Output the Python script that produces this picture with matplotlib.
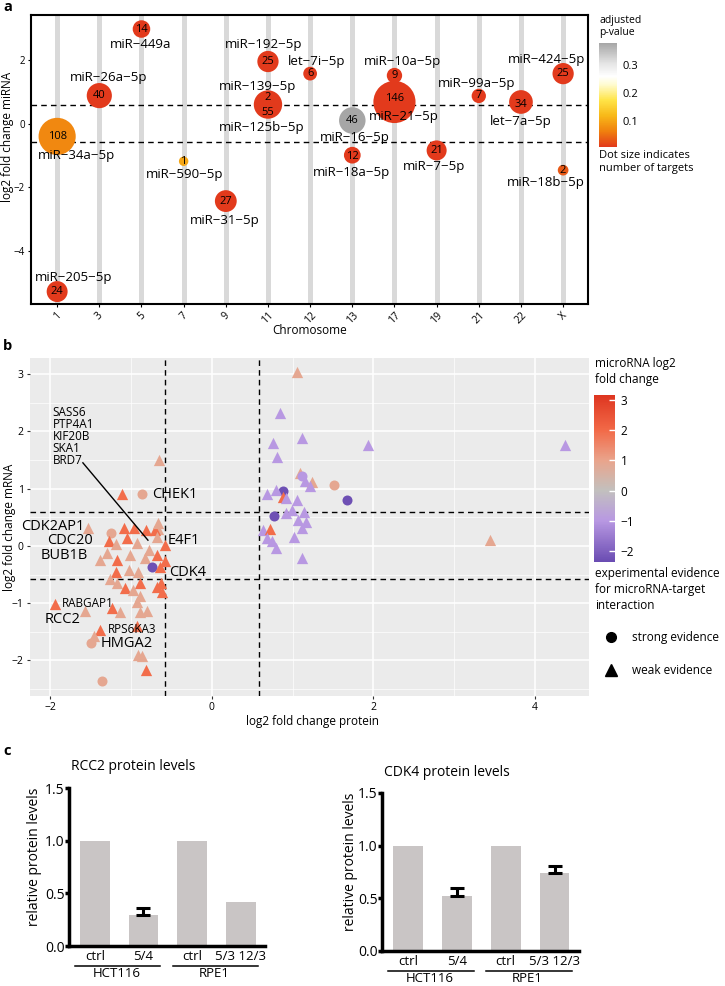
import numpy as np
import matplotlib
matplotlib.use("Agg")
import matplotlib.pyplot as plt
from matplotlib.colors import LinearSegmentedColormap, Normalize
from matplotlib.cm import ScalarMappable
from matplotlib.lines import Line2D

plt.rcParams['font.family'] = ['Open Sans', 'DejaVu Sans']

# ---------------- panel a data ----------------
chromosomes = ['1', '3', '5', '7', '9', '11', '12', '13', '17', '19', '21', '22', 'X']
mirna_names = ['miR−34a−5p', 'miR−205−5p', 'miR−26a−5p', 'miR−449a', 'miR−590−5p',
               'miR−31−5p', 'miR−192−5p', 'miR−139−5p', 'miR−125b−5p', 'let−7i−5p',
               'miR−16−5p', 'miR−18a−5p', 'miR−10a−5p', 'miR−21−5p', 'miR−7−5p',
               'miR−99a−5p', 'let−7a−5p', 'miR−424−5p', 'miR−18b−5p']
mirna_chrom = ['1', '1', '3', '5', '7', '9', '11', '11', '11', '12', '13', '13',
               '17', '17', '19', '21', '22', 'X', 'X']
mirna_lfc = [-0.40, -5.27, 0.88, 2.97, -1.18, -2.43, 1.95, 0.80, 0.60, 1.57, 0.10,
             -0.99, 1.51, 0.68, -0.84, 0.87, 0.68, 1.57, -1.46]
mirna_targets = [108, 24, 40, 14, 1, 27, 25, 2, 55, 6, 46, 12, 9, 146, 21, 7, 34, 25, 2]
mirna_padj = [0.07, 0.005, 0.005, 0.005, 0.10, 0.005, 0.005, 0.005, 0.005, 0.005,
              0.38, 0.005, 0.005, 0.005, 0.005, 0.005, 0.005, 0.005, 0.03]

# label placement (layout only)
name_pos = [(1.47, -0.99), (1.39, -4.83), (2.22, 1.44), (2.98, 2.48), (4.03, -1.59),
            (4.98, -3.03), (5.89, 2.48), (5.75, 1.17), (5.85, -0.11), (7.15, 1.95),
            (8.05, -0.42), (7.99, -1.52), (9.18, 1.95), (9.23, 0.24), (9.93, -1.34),
            (10.95, 1.27), (12.0, 0.08), (12.6, 2.02), (12.59, -1.85)]
count_dy = [0, 0, 0, 0, 0, 0, 0, 0.03, -0.24, 0, 0, -0.05, 0, 0.1, 0, 0, -0.08, 0, 0]

# ---------------- panel b data ----------------
# colour groups hold the microRNA log2 fold change
O, S, LP, DP = 1.95, 0.88, -0.99, -2.3
protein_fc = [-0.65, -1.11, -0.86, -1.53, -1.25, -1.09, -0.96, -0.81, -0.67, -0.70,
              -0.67, -1.27, -1.19, -1.05, -0.93, -0.68, -0.58, -0.78, -1.38, -1.30,
              -1.17, -1.01, -0.83, -0.68, -0.74, -0.64, -1.18, -1.03, -0.91, -0.58,
              -1.26, -0.89, -0.68, -1.17, -1.07, -0.63, -0.62, -0.89, -0.93, -0.97,
              -1.94, -1.57, -1.24, -1.14, -0.80, -0.89, -1.38, -1.46, -1.49, -0.93,
              -0.91, -0.86, -0.81, -1.36,
              1.05, 0.84, 1.12, 0.76, 0.81, 1.94, 4.37, 3.44, 1.09, 1.12, 1.16, 1.24,
              1.22, 1.51, 1.68, 0.88, 0.68, 0.80, 0.88, 0.92, 1.05, 0.99, 1.14, 0.77,
              0.92, 1.07, 1.17, 1.12, 0.64, 0.72, 0.68, 0.74, 0.80, 1.02, 1.12]
mrna_fc = [1.50, 0.90, 0.90, 0.31, 0.23, 0.31, 0.31, 0.28, 0.30, 0.27,
           0.40, 0.08, 0.03, 0.14, 0.05, 0.16, 0.02, -0.07, -0.24, -0.12,
           -0.24, -0.16, -0.21, -0.16, -0.37, -0.37, -0.45, -0.42, -0.45, -0.27,
           -0.57, -0.65, -0.71, -0.65, -0.73, -0.65, -0.80, -0.88, -0.98, -0.77,
           -1.02, -1.14, -1.09, -1.16, -1.14, -1.15, -1.47, -1.57, -1.70, -1.40,
           -1.90, -1.93, -2.17, -2.35,
           3.04, 2.32, 1.88, 1.79, 1.56, 1.76, 1.76, 0.10, 1.27, 1.22, 1.14, 1.12,
           1.04, 1.06, 0.80, 0.95, 0.91, 0.98, 0.86, 0.84, 0.80, 0.63, 0.60, 0.52,
           0.57, 0.45, 0.41, 0.31, 0.28, 0.30, 0.13, 0.08, -0.04, 0.16, -0.21]
mirna_fc = [S, O, S, S, S, O, O, O, S, O,
            S, O, S, O, S, S, O, S, S, S,
            O, S, S, O, DP, O, O, S, S, O,
            S, O, O, S, O, O, O, S, S, S,
            O, S, O, S, S, S, O, S, S, O,
            S, S, O, S,
            S, LP, LP, LP, LP, LP, LP, S, S, LP, LP, S,
            LP, S, DP, DP, LP, LP, O, LP, LP, LP, LP, DP,
            LP, LP, LP, LP, LP, O, LP, LP, LP, LP, LP]
evidence = ['weak', 'weak', 'strong', 'weak', 'strong', 'weak', 'weak', 'weak', 'weak', 'weak',
            'weak', 'weak', 'weak', 'weak', 'weak', 'weak', 'weak', 'weak', 'weak', 'weak',
            'weak', 'weak', 'weak', 'weak', 'strong', 'weak', 'weak', 'weak', 'weak', 'weak',
            'weak', 'weak', 'weak', 'weak', 'weak', 'weak', 'weak', 'weak', 'weak', 'weak',
            'weak', 'weak', 'weak', 'weak', 'weak', 'weak', 'weak', 'weak', 'strong', 'weak',
            'weak', 'weak', 'weak', 'strong',
            'weak', 'weak', 'weak', 'weak', 'weak', 'weak', 'weak', 'weak', 'weak', 'strong', 'weak', 'weak',
            'weak', 'strong', 'strong', 'strong', 'weak', 'weak', 'weak', 'weak', 'weak', 'weak', 'weak', 'strong',
            'weak', 'weak', 'weak', 'weak', 'weak', 'weak', 'weak', 'weak', 'weak', 'weak', 'weak']

gene_labels = ['CHEK1', 'CDK2AP1', 'CDC20', 'BUB1B', 'E4F1', 'CDK4', 'RABGAP1', 'RCC2',
               'RPS6KA3', 'HMGA2']
gene_label_pos = [(-0.74, 0.89, 'left'), (-1.57, 0.33, 'right'), (-1.47, 0.09, 'right'),
                  (-1.53, -0.16, 'right'), (-0.55, 0.09, 'left'), (-0.53, -0.47, 'left'),
                  (-1.85, -1.0, 'left'), (-2.07, -1.29, 'left'), (-1.28, -1.46, 'left'),
                  (-1.38, -1.70, 'left')]
gene_label_small = ['RABGAP1', 'RPS6KA3']
group_label = 'SASS6\nPTP4A1\nKIF20B\nSKA1\nBRD7'

# ---------------- panel c data ----------------
bar_labels = ['ctrl', '5/4', 'ctrl', '5/3 12/3']
cell_lines = ['HCT116', 'RPE1']
rcc2_levels = [1.0, 0.29, 1.0, 0.42]
rcc2_err = [0, 0.075, 0, 0]
cdk4_levels = [1.0, 0.52, 1.0, 0.74]
cdk4_err = [0, 0.075, 0, 0.07]

W, H = 725, 986
fig = plt.figure(figsize=(W / 100, H / 100), dpi=100)


def px_axes(l, t, r, b):
    return fig.add_axes([l / W, 1 - b / H, (r - l) / W, (b - t) / H])


def fx(x):
    return x / W


def fy(y):
    return 1 - y / H


thr = np.log2(1.5)

# ================= panel a =================
ax = px_axes(31, 15, 588, 304)
xpos = {c: i + 1 for i, c in enumerate(chromosomes)}
for i in range(len(chromosomes)):
    ax.axvline(i + 1, color='#D9D9D9', lw=3.6, zorder=0)
ax.axhline(thr, color='black', lw=1, ls=(0, (4, 3)), zorder=1)
ax.axhline(-thr, color='black', lw=1, ls=(0, (4, 3)), zorder=1)

p_cmap = LinearSegmentedColormap.from_list('padj', [
    (0.0, '#E23A1C'), (0.15, '#F0800E'), (0.3, '#F8B818'), (0.45, '#FFE448'),
    (0.6, '#FFFBD0'), (0.68, '#FFFFFF'), (0.8, '#E6E6E6'), (1.0, '#A6A6A6')])
p_norm = Normalize(0.005, 0.38)

mx = np.array([xpos[c] for c in mirna_chrom])
my = np.array(mirna_lfc)
diam_px = 6.5 + 2.95 * np.sqrt(np.array(mirna_targets))
ax.scatter(mx, my, s=(diam_px * 0.72) ** 2, c=mirna_padj, cmap=p_cmap, norm=p_norm,
           linewidths=0, zorder=2)
for i in range(len(mirna_names)):
    ax.text(mx[i], my[i] + count_dy[i], str(mirna_targets[i]), ha='center', va='center',
            fontsize=8, zorder=4)
    ax.text(name_pos[i][0], name_pos[i][1], mirna_names[i], ha='center', va='center',
            fontsize=9.5, zorder=4)

ax.set_xlim(0.38, 13.59)
ax.set_ylim(-5.66, 3.41)
ax.set_xticks(range(1, len(chromosomes) + 1))
ax.set_xticklabels(chromosomes, rotation=45, fontsize=7.5)
ax.set_yticks([-4, -2, 0, 2])
ax.set_yticklabels(['−4', '−2', '0', '2'], fontsize=7)
ax.tick_params(length=2.5, width=0.8, pad=2)
for sp in ax.spines.values():
    sp.set_linewidth(1.5)

fig.text(fx(310), fy(331), 'Chromosome', ha='center', va='center', fontsize=8.5)
fig.text(fx(8), fy(137), 'log2 fold change miRNA', rotation=90, ha='center', va='center',
         fontsize=8.5)

cax = px_axes(599, 43, 617, 147)
cb = fig.colorbar(ScalarMappable(p_norm, p_cmap), cax=cax)
cb.outline.set_visible(False)
cb.set_ticks([0.1, 0.2, 0.3])
cb.set_ticklabels(['0.1', '0.2', '0.3'])
cax.tick_params(length=0, labelsize=8, pad=4)
fig.text(fx(599), fy(15), 'adjusted\np-value', ha='left', va='top', fontsize=7.5,
         linespacing=1.1)
fig.text(fx(599), fy(150), 'Dot size indicates\nnumber of targets', ha='left', va='top',
         fontsize=8, linespacing=1.25)

# ================= panel b =================
bx = px_axes(30, 358, 589, 696)
bx.set_facecolor('#EBEBEB')
for sp in bx.spines.values():
    sp.set_visible(False)
bx.set_xlim(-2.25, 4.67)
bx.set_ylim(-2.62, 3.28)
bx.set_xticks([-2, 0, 2, 4])
bx.set_xticklabels(['−2', '0', '2', '4'])
bx.set_yticks([-2, -1, 0, 1, 2, 3])
bx.set_yticklabels(['−2', '−1', '0', '1', '2', '3'])
bx.set_xticks([-1, 1, 3], minor=True)
bx.set_yticks(np.arange(-2.5, 3.01, 1.0), minor=True)
bx.grid(True, which='major', color='white', lw=1.1)
bx.grid(True, which='minor', color='white', lw=0.5)
bx.set_axisbelow(True)
bx.tick_params(which='major', length=2.5, width=0.8, color='#333333', labelsize=7.5, pad=2)
bx.tick_params(which='minor', length=0)

for v in (-thr, thr):
    bx.axvline(v, color='black', lw=1, ls=(0, (4, 3)), zorder=1)
    bx.axhline(v, color='black', lw=1, ls=(0, (4, 3)), zorder=1)

fc_norm = Normalize(-2.37, 3.17)
fc_cmap = LinearSegmentedColormap.from_list('fc', [
    (0.0, '#6A4CB2'), (0.247, '#B898E2'), (0.428, '#C2C0BE'), (0.608, '#E9A48C'),
    (0.789, '#F26A48'), (1.0, '#DE3520')])
for i in range(len(protein_fc)):
    mk = 'o' if evidence[i] == 'strong' else '^'
    bx.scatter(protein_fc[i], mrna_fc[i], s=52 if mk == 'o' else 66, marker=mk,
               color=fc_cmap(fc_norm(mirna_fc[i])), linewidths=0, zorder=2)

for name, (lx, ly, ha) in zip(gene_labels, gene_label_pos):
    small = name in gene_label_small
    bx.text(lx, ly, name, ha=ha, va='center', fontsize=8.5 if small else 10.5, zorder=4)
bx.text(-1.97, 2.45, group_label, ha='left', va='top', fontsize=8.5, linespacing=0.9,
        zorder=4)
bx.plot([-1.595, -0.79], [1.45, 0.10], color='black', lw=1, zorder=4)

fig.text(fx(313), fy(722), 'log2 fold change protein', ha='center', va='center', fontsize=8.5)
fig.text(fx(10), fy(527), 'log2 fold change mRNA', rotation=90, ha='center', va='center',
         fontsize=8.5)

cbx = px_axes(594, 395, 615, 562)
cb2 = fig.colorbar(ScalarMappable(fc_norm, fc_cmap), cax=cbx)
cb2.outline.set_visible(False)
cb2.set_ticks([-2, -1, 0, 1, 2, 3])
cb2.set_ticklabels(['−2', '−1', '0', '1', '2', '3'])
cbx.tick_params(direction='in', color='white', length=4, width=1, labelsize=8.5, pad=4)
fig.text(fx(595), fy(357), 'microRNA log2\nfold change', ha='left', va='top', fontsize=8.5,
         linespacing=1.3)
fig.text(fx(595), fy(567), 'experimental evidence\nfor microRNA-target\ninteraction',
         ha='left', va='top', fontsize=8.5, linespacing=1.3)
handles = [Line2D([], [], marker='o', color='black', ls='', ms=7),
           Line2D([], [], marker='^', color='black', ls='', ms=8.5)]
fig.legend(handles, ['strong evidence', 'weak evidence'], loc='upper left',
           bbox_to_anchor=(fx(599), fy(631)), frameon=False, fontsize=8.5,
           labelspacing=1.7, handletextpad=0.8, borderaxespad=0, borderpad=0)


# ================= panel c =================
def bar_panel(box, levels, err, title, title_xy, ylab_x):
    cx = px_axes(*box)
    pos = np.arange(len(levels))
    cx.bar(pos, levels, width=0.61, color='#C9C5C5', zorder=1)
    has_err = np.array(err) > 0
    cx.errorbar(pos[has_err], np.array(levels)[has_err],
                yerr=[np.zeros(has_err.sum()), np.array(err)[has_err]], fmt='none',
                ecolor='black', elinewidth=2.2, capsize=5, capthick=2.2, zorder=2)
    cx.set_xlim(-0.53, 3.5)
    cx.set_ylim(0, 1.5)
    cx.set_yticks([0, 0.5, 1.0, 1.5])
    cx.set_yticklabels(['0.0', '0.5', '1.0', '1.5'])
    cx.set_xticks(pos)
    cx.set_xticklabels(bar_labels)
    cx.spines['top'].set_visible(False)
    cx.spines['right'].set_visible(False)
    cx.spines['left'].set_linewidth(2.5)
    cx.spines['bottom'].set_linewidth(2.5)
    cx.tick_params(axis='y', length=3, width=2.5, labelsize=10, pad=0)
    cx.tick_params(axis='x', length=0, labelsize=9.5, pad=3)
    tr = cx.get_xaxis_transform()
    for g, name in enumerate(cell_lines):
        cx.plot([2 * g - 0.4, 2 * g + 1.35], [-0.125, -0.125], transform=tr, color='black',
                lw=1.1, clip_on=False)
        cx.text(2 * g + 0.45, -0.175, name, transform=tr, ha='center', va='center',
                fontsize=9.5)
    fig.text(fx(title_xy[0]), fy(title_xy[1]), title, ha='center', va='center', fontsize=10)
    fig.text(fx(ylab_x), fy((box[1] + box[3]) / 2 - 10), 'relative protein levels',
             rotation=90, ha='center', va='center', fontsize=10)
    return cx


bar_panel((69, 788, 265, 946), rcc2_levels, rcc2_err, 'RCC2 protein levels', (133, 767), 35)
bar_panel((382, 793, 579, 951), cdk4_levels, cdk4_err, 'CDK4 protein levels', (447, 772), 351)

for letter, (lx, ly) in zip(['a', 'b', 'c'], [(3, 7), (3, 346), (3, 751)]):
    fig.text(fx(lx), fy(ly), letter, ha='left', va='center', fontsize=10.5, fontweight='bold')

fig.savefig('out.png', dpi=100)
